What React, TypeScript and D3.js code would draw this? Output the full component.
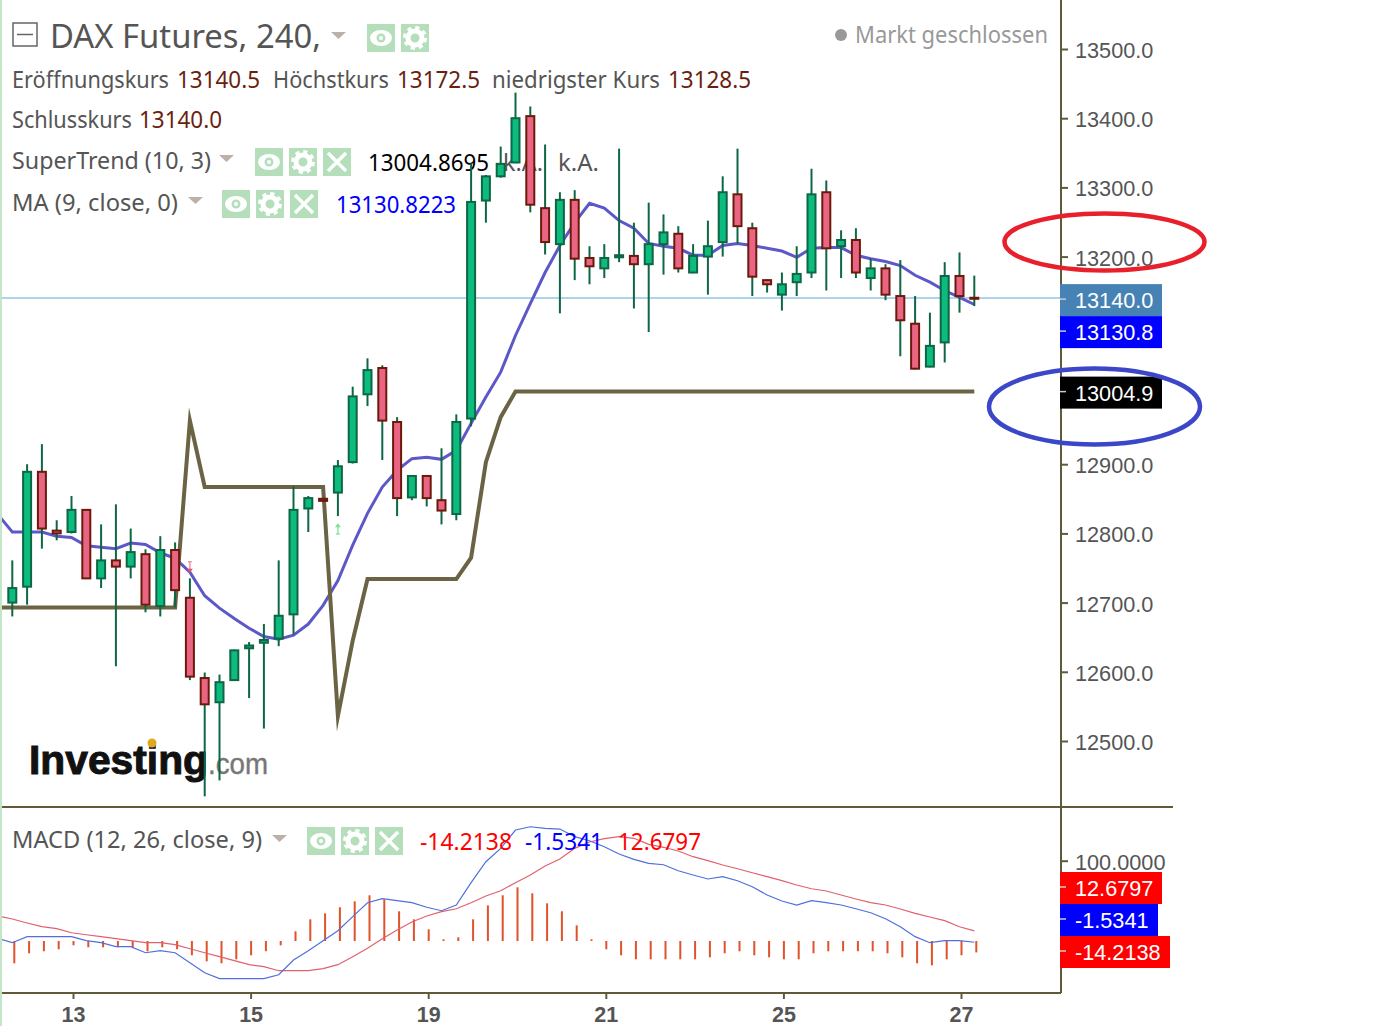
import React, { useEffect, useRef } from "react";
import * as d3 from "d3";

// DAX Futures 240 min candles
const opens = [12700,12723,12889,12804,12802,12834,12735,12761,12752,12770,12695,12776,12707,12591,12556,12588,12634,12642,12648,12683,12836,12850,12859,12903,13001,13039,12961,12852,12883,12848,12828,12966,13281,13316,13336,13403,13270,13218,13282,13198,13183,13199,13201,13189,13218,13233,13177,13200,13221,13290,13241,13166,13145,13163,13177,13293,13215,13224,13169,13183,13143,13103,13041,13076,13172,13140.5];
const highs = [12761,12900,12929,12819,12854,12835,12813,12842,12807,12777,12796,12787,12735,12599,12596,12632,12643,12669,12761,12868,12854,12851,12906,13012,13053,13043,12968,12884,12884,12923,12972,13335,13318,13359,13437,13417,13362,13293,13296,13215,13218,13356,13249,13278,13261,13244,13218,13252,13316,13356,13249,13167,13177,13215,13327,13310,13238,13241,13197,13189,13195,13143,13119,13192,13206,13172.5];
const lows = [12680,12697,12778,12790,12800,12734,12721,12608,12735,12686,12680,12693,12588,12420,12443,12587,12562,12518,12637,12654,12802,12846,12825,12901,12984,12906,12825,12848,12839,12813,12819,12955,13249,13314,13335,13264,13203,13118,13166,13160,13169,13192,13125,13091,13174,13177,13176,13145,13200,13219,13143,13148,13122,13143,13169,13151,13169,13169,13151,13137,13056,13037,13040,13047,13119,13128.5];
const closes = [12721,12889,12807,12800,12834,12735,12761,12752,12773,12697,12776,12718,12593,12553,12585,12631,12638,12646,12681,12834,12851,12847,12897,12998,13036,12963,12851,12883,12851,12833,12961,13279,13316,13334,13400,13275,13221,13282,13197,13186,13198,13202,13189,13218,13235,13183,13201,13215,13293,13244,13171,13160,13160,13175,13290,13212,13224,13177,13183,13145,13108,13038,13071,13172,13143,13140];

// lines start one bar before the first candle (cut by the left edge)
const maValues = [12828,12802,12802,12802,12796,12794,12782,12780,12778,12786,12784,12772,12764,12744,12710,12692,12677,12663,12651,12647,12653,12669,12696,12732,12783,12829,12867,12891,12908,12910,12907,12920,12959,12997,13033,13086,13132,13177,13216,13249,13277,13270,13252,13241,13219,13215,13212,13202,13202,13216,13219,13216,13212,13208,13199,13212,13213,13213,13202,13197,13193,13187,13173,13163,13151,13141,13130.8];
const superTrend = [12693,12693,12693,12693,12693,12693,12693,12693,12693,12693,12693,12693,12693,12963,12867,12867,12867,12867,12867,12867,12867,12867,12867,12536,12645,12734,12734,12734,12734,12734,12734,12734,12765,12903,12968,13004.9,13004.9,13004.9,13004.9,13004.9,13004.9,13004.9,13004.9,13004.9,13004.9,13004.9,13004.9,13004.9,13004.9,13004.9,13004.9,13004.9,13004.9,13004.9,13004.9,13004.9,13004.9,13004.9,13004.9,13004.9,13004.9,13004.9,13004.9,13004.9,13004.9,13004.9,13004.9];

const macdValues = [3.4,-2.1,5.4,5.4,5.4,5.4,0.4,-2.1,-7.1,-7.1,-14.6,-12.1,-14.6,-27,-39.5,-46.9,-46.9,-46.9,-46.9,-42,-23.7,-12.1,0.4,12.8,30.3,47.7,52.7,50.2,47.7,42,37.7,44.8,72.6,98.7,115.4,138.2,142.3,140.3,139.4,129.9,124.9,117.4,108.3,101.7,96.7,95,87.5,82.2,77.2,80.1,75.1,67.6,57.3,49.8,44.8,50.2,47.7,44.8,40.2,35.2,27.8,17.8,5.4,-2.1,0.4,0.4,-1.5341];
const signalValues = [31.1,27.4,22.4,17.8,15.3,10.3,7.8,5.4,2.9,0.4,-2.1,-2.1,-4.6,-9.6,-14.6,-19.5,-24.5,-29.5,-32,-37,-37,-37,-34.5,-29.5,-19.5,-9.1,2.9,13.7,23.7,31.1,36.5,40.2,47.7,56,62.6,72.6,82.2,93.4,102.1,115.4,123.3,127.4,129.9,127.9,120.4,116.7,112.1,105,100,94.6,90,85,80.1,75.1,69.7,65.1,62.3,57.3,52.3,47.7,44.8,39.8,34.5,29.9,25.3,17.8,12.6797];
const histValues = [-27.8,-15.3,-12.8,-10.3,-5.4,-7.8,-7.8,-7.8,-7.8,-12.8,-7.8,-10.3,-17.8,-25.3,-27.8,-22.8,-17.8,-12.8,-5.4,12.1,27,34.5,42,49.4,56.9,51.9,37,27,14.6,2.1,4.6,27,44.4,56.9,66.9,59.4,46.9,37,19.5,2.1,-10.3,-17.8,-22.8,-22.8,-22.8,-22.8,-22.8,-20.3,-15.3,-12.8,-17.8,-20.3,-22.8,-22.8,-15.3,-12.8,-12.8,-12.8,-12.8,-15.3,-20.3,-27.8,-30.3,-22.8,-17.8,-14.2138];

// 13100 and 13000 sit behind the value tags in the picture
const priceTicks = [13500,13400,13300,13200,12900,12800,12700,12600,12500];
const macdTicks = [100];
const dateTickBars = [4,16,28,40,52,64];
const dateTickLabels = ["13","15","19","21","25","27"];

const lastClose = 13140.0;
const lastMa = 13130.8;
const lastSuperTrend = 13004.9;

const axisColor = "#5f5a3a";
const textColor = "#555";
const valueColor = "#6b1f10";
const legendFont = "'Noto Sans', sans-serif";
const axisFont = "'Liberation Sans', Arial, sans-serif";

const x = d3.scaleLinear().domain([0, 65]).range([12.3, 974.3]);
const y = d3.scaleLinear().domain([12500, 13500]).range([741, 49]);
const yMacd = d3.scaleLinear().domain([0, 100]).range([941, 860.7]);

const lineX = (_: number, i: number) => x(i - 1);
const maLine = d3.line<number>().x(lineX).y((d) => y(d));
const macdLine = d3.line<number>().x(lineX).y((d) => yMacd(d));

const Label = ({ x, y, w, size = 23, fill = textColor, children }: any) => (
  <text
    x={x}
    y={y}
    fontFamily={legendFont}
    fontSize={size}
    fill={fill}
    textLength={w}
    lengthAdjust="spacingAndGlyphs"
  >
    {children}
  </text>
);

const Arrow = ({ x, y }: { x: number; y: number }) => (
  <path d={`M${x},${y} h15 l-7.5,7 z`} fill="#bcb0a8" />
);

const IconBox = ({ x, y, children }: any) => (
  <g transform={`translate(${x},${y})`}>
    <rect width={28} height={28} fill="#b5dfbb" />
    {children}
  </g>
);

const EyeIcon = ({ x, y }: { x: number; y: number }) => (
  <IconBox x={x} y={y}>
    <ellipse cx={14} cy={14} rx={11} ry={8} fill="#fff" />
    <circle cx={14} cy={14} r={4.5} fill="#b5dfbb" />
    <circle cx={14} cy={14} r={2} fill="#fff" />
  </IconBox>
);

const GearIcon = ({ x, y }: { x: number; y: number }) => (
  <IconBox x={x} y={y}>
    <circle cx={14} cy={14} r={7} fill="none" stroke="#fff" strokeWidth={5} />
    <circle cx={14} cy={14} r={10} fill="none" stroke="#fff" strokeWidth={4} strokeDasharray="4 3.85" />
  </IconBox>
);

const CloseIcon = ({ x, y }: { x: number; y: number }) => (
  <IconBox x={x} y={y}>
    <path d="M5,5 L23,23 M23,5 L5,23" stroke="#fff" strokeWidth={3.5} />
  </IconBox>
);

const Tag = ({ y, w, fill, label }: { y: number; w: number; fill: string; label: string }) => (
  <g>
    <rect x={1060} y={y - 16} width={w} height={32} fill={fill} />
    <line x1={1060} x2={1066} y1={y - 1} y2={y - 1} stroke="#ccc" strokeWidth={1.5} />
    <text x={1075} y={y + 8} fontFamily={axisFont} fontSize={21.7} fill="#fff">
      {label}
    </text>
  </g>
);

export default function App() {
  const priceAxisRef = useRef<SVGGElement | null>(null);
  const macdAxisRef = useRef<SVGGElement | null>(null);
  const dateAxisRef = useRef<SVGGElement | null>(null);

  useEffect(() => {
    const styleAxis = (g: any, size: number) => {
      g.select(".domain").remove();
      g.selectAll("line").attr("stroke", axisColor).attr("stroke-width", 2);
      g.selectAll("text")
        .attr("font-family", axisFont)
        .attr("font-size", size)
        .attr("fill", textColor);
    };

    d3.select(priceAxisRef.current)
      .call(d3.axisRight(y).tickValues(priceTicks).tickSize(7).tickPadding(7).tickFormat((d) => (+d).toFixed(1)) as any)
      .call(styleAxis, 21.7);

    d3.select(macdAxisRef.current)
      .call(d3.axisRight(yMacd).tickValues(macdTicks).tickSize(7).tickPadding(7).tickFormat((d) => (+d).toFixed(4)) as any)
      .call(styleAxis, 21.7);

    // labels sit a little under their ticks
    d3.select(priceAxisRef.current).selectAll("text").attr("transform", "translate(0,1.5)");
    d3.select(macdAxisRef.current).selectAll("text").attr("transform", "translate(0,1.5)");

    d3.select(dateAxisRef.current)
      .call(d3.axisBottom(x).tickValues(dateTickBars).tickSize(6).tickPadding(8).tickFormat((_, i) => dateTickLabels[i]) as any)
      .call(styleAxis, 21.5);
    d3.select(dateAxisRef.current).selectAll("text").attr("font-weight", "bold");
  }, []);

  return (
    <svg width={1395} height={1026} style={{ position: "absolute", left: 0, top: 0, background: "#fff" }}>
      <defs>
        <clipPath id="plot">
          <rect x={2} y={0} width={1059} height={992} />
        </clipPath>
      </defs>

      <rect x={0} y={0} width={2} height={1026} fill="#c4e6c6" />

      {/* watermark */}
      <text x={29} y={774} fontFamily={axisFont} fontWeight="bold" fontSize={41} fill="#111" stroke="#111" strokeWidth={1} textLength={179} lengthAdjust="spacingAndGlyphs">
        Investing
      </text>
      <text x={208} y={774} fontFamily={axisFont} fontSize={30} fill="#777" stroke="#777" strokeWidth={0.4} textLength={60} lengthAdjust="spacingAndGlyphs">
        .com
      </text>
      <circle cx={152} cy={743} r={4.5} fill="#e0a91e" />

      {/* legend */}
      <rect x={13} y={23} width={24} height={23} fill="none" stroke="#666" strokeWidth={1.5} />
      <line x1={17} x2={33} y1={34.5} y2={34.5} stroke="#666" strokeWidth={1.5} />
      <Label x={50} y={48} w={271} size={32}>DAX Futures, 240,</Label>
      <Arrow x={331} y={32} />
      <EyeIcon x={367} y={24} />
      <GearIcon x={401} y={24} />
      <circle cx={841} cy={35} r={6} fill="#999" />
      <Label x={855} y={43} w={193} fill="#999">Markt geschlossen</Label>

      <Label x={12} y={88} w={157}>Eröffnungskurs</Label>
      <Label x={177} y={88} w={83} fill={valueColor}>13140.5</Label>
      <Label x={273} y={88} w={116}>Höchstkurs</Label>
      <Label x={397} y={88} w={83} fill={valueColor}>13172.5</Label>
      <Label x={492} y={88} w={168}>niedrigster Kurs</Label>
      <Label x={668} y={88} w={83} fill={valueColor}>13128.5</Label>
      <Label x={12} y={128} w={120}>Schlusskurs</Label>
      <Label x={139} y={128} w={83} fill={valueColor}>13140.0</Label>

      <Label x={12} y={169} w={199}>SuperTrend (10, 3)</Label>
      <Arrow x={219} y={155} />
      <EyeIcon x={255} y={148} />
      <GearIcon x={289} y={148} />
      <CloseIcon x={323} y={148} />
      <Label x={368} y={171} w={121} fill="#000">13004.8695</Label>
      <Label x={503} y={171} w={40}>k.A.</Label>
      <Label x={558} y={171} w={41}>k.A.</Label>

      <Label x={12} y={211} w={166}>MA (9, close, 0)</Label>
      <Arrow x={188} y={197} />
      <EyeIcon x={222} y={190} />
      <GearIcon x={256} y={190} />
      <CloseIcon x={290} y={190} />
      <Label x={336} y={213} w={120} fill="#0000ff">13130.8223</Label>

      {/* last price line */}
      <line x1={2} x2={1060} y1={y(lastClose)} y2={y(lastClose)} stroke="#93c6e6" strokeWidth={1.5} />

      <g clipPath="url(#plot)">
        <path d={maLine(maValues) ?? ""} fill="none" stroke="#5d58c8" strokeWidth={3} />
        <path d={maLine(superTrend) ?? ""} fill="none" stroke="#6a6444" strokeWidth={4} strokeLinejoin="miter" strokeMiterlimit={10} />

        {closes.map((c, i) => {
          const up = c >= opens[i];
          const top = y(Math.max(opens[i], c));
          const bottom = y(Math.min(opens[i], c));
          return (
            <g key={i}>
              <line x1={x(i)} x2={x(i)} y1={y(highs[i])} y2={y(lows[i])} stroke="#0f6644" strokeWidth={2} />
              <rect
                x={x(i) - 4}
                y={top}
                width={8}
                height={Math.max(bottom - top, 1)}
                fill={up ? "#0cbb7e" : "#ea6484"}
                stroke={up ? "#0f6644" : "#6b1a0a"}
                strokeWidth={2}
              />
            </g>
          );
        })}

        {/* supertrend signals */}
        <path d={`M${x(12)},${y(12759)} V${y(12746)} M${x(12) - 2},${y(12759)} h4`} stroke="#e89aa8" strokeWidth={1.5} fill="none" />
        <path d={`M${x(12) - 3},${y(12749)} h6 l-3,4 z`} fill="#f05060" />
        <path d={`M${x(22)},${y(12812)} V${y(12799)} M${x(22) - 2},${y(12799)} h4`} stroke="#8fe6a0" strokeWidth={1.5} fill="none" />
        <path d={`M${x(22) - 3},${y(12809)} h6 l-3,-4 z`} fill="#7fe095" />

        {/* macd pane */}
        {histValues.map((h, i) => (
          <line
            key={i}
            x1={x(i) + 2}
            x2={x(i) + 2}
            y1={yMacd(0)}
            y2={yMacd(h)}
            stroke="#e0522a"
            strokeWidth={2}
          />
        ))}
        <path d={macdLine(signalValues) ?? ""} fill="none" stroke="#e2606e" strokeWidth={1.2} />
        <path d={macdLine(macdValues) ?? ""} fill="none" stroke="#4f70dc" strokeWidth={1.2} />
      </g>

      <Label x={12} y={848} w={250}>MACD (12, 26, close, 9)</Label>
      <Arrow x={272} y={835} />
      <EyeIcon x={307} y={827} />
      <GearIcon x={341} y={827} />
      <CloseIcon x={375} y={827} />
      <Label x={420} y={850} w={92} fill="#ff0000">-14.2138</Label>
      <Label x={525} y={850} w={78} fill="#0000ff">-1.5341</Label>
      <Label x={618} y={850} w={83} fill="#ff0000">12.6797</Label>

      {/* axes */}
      <line x1={1061} x2={1061} y1={0} y2={993} stroke={axisColor} strokeWidth={2} />
      <line x1={2} x2={1173} y1={807} y2={807} stroke={axisColor} strokeWidth={2} />
      <line x1={2} x2={1061} y1={993} y2={993} stroke={axisColor} strokeWidth={2} />
      <g ref={priceAxisRef} transform="translate(1061,0)" />
      <g ref={macdAxisRef} transform="translate(1061,0)" />
      <g ref={dateAxisRef} transform="translate(1.5,993)" />

      {/* last value tags */}
      <Tag y={y(lastClose) + 2} w={102} fill="#4682b4" label={lastClose.toFixed(1)} />
      <Tag y={y(lastClose) + 34} w={102} fill="#0000ff" label={lastMa.toFixed(1)} />
      <Tag y={y(lastSuperTrend) + 1} w={102} fill="#000" label={lastSuperTrend.toFixed(1)} />
      <Tag y={888} w={102} fill="#ff0000" label="12.6797" />
      <Tag y={920} w={98} fill="#0000ff" label="-1.5341" />
      <Tag y={952} w={110} fill="#ff0000" label="-14.2138" />

      {/* hand drawn ovals */}
      <ellipse cx={1104.5} cy={242} rx={100} ry={28.5} fill="none" stroke="#e8202c" strokeWidth={4.5} />
      <ellipse cx={1094.5} cy={406.5} rx={105.5} ry={38} fill="none" stroke="#3b46c8" strokeWidth={4.5} />
    </svg>
  );
}
